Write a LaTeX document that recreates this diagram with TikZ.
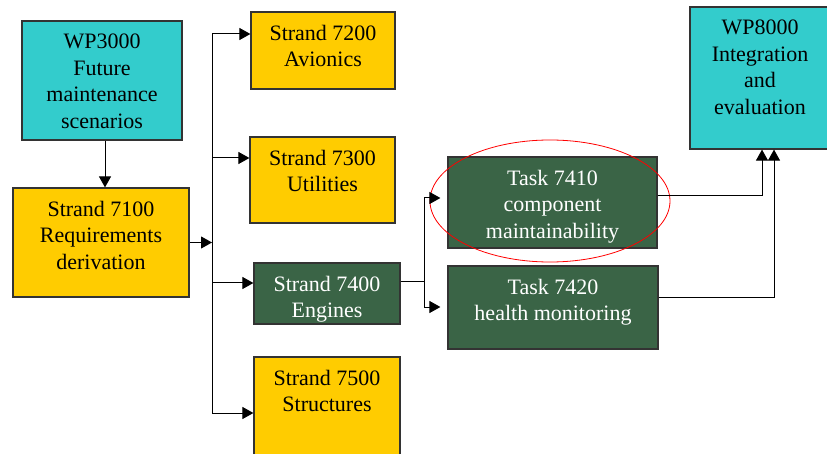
\documentclass[tikz,border=0pt]{standalone}
\usepackage{fontspec}
\newfontfamily\boxfont{Liberation Serif}
\usetikzlibrary{arrows.meta,shapes.geometric}
\definecolor{wpcyan}{HTML}{33CCCC}
\definecolor{stryellow}{HTML}{FFCC00}
\definecolor{taskgreen}{HTML}{3A6446}
\begin{document}
\begin{tikzpicture}[>={Triangle[length=11pt,width=12pt]}, x=1pt, y=-1pt, line width=1pt,
  box/.style={draw=black!80, line width=1.2pt, rectangle, inner sep=0pt},
  cy/.style={box, fill=wpcyan},
  yl/.style={box, fill=stryellow},
  gr/.style={box, fill=taskgreen},
  txt/.style={anchor=north, align=center, inner sep=0pt, yshift=-13pt,
    font=\boxfont\fontsize{22pt}{26.7pt}\selectfont}]
\useasboundingbox (0,0) rectangle (827,454);
\clip (0,0) rectangle (827,454);
% work packages
\node[cy, minimum width=160pt, minimum height=119pt,
  label={[txt]north:WP3000\\Future\\maintenance\\scenarios}] (wp3) at (102,80.5) {};
\node[cy, minimum width=140pt, minimum height=142pt,
  label={[txt]north:WP8000\\Integration\\and\\evaluation}] (wp8) at (760,78) {};
% strands
\node[yl, minimum width=176pt, minimum height=109pt,
  label={[txt]north:Strand 7100\\Requirements\\derivation}] (s71) at (101,242.5) {};
\node[yl, minimum width=144pt, minimum height=77pt,
  label={[txt]north:Strand 7200\\Avionics}] (s72) at (323,50.5) {};
\node[yl, minimum width=145pt, minimum height=86pt,
  label={[txt]north:Strand 7300\\Utilities}] (s73) at (322.5,180) {};
\node[gr, minimum width=146pt, minimum height=61pt,
  label={[txt,text=white]north:Strand 7400\\Engines}] (s74) at (327,293.5) {};
\node[yl, minimum width=146pt, minimum height=110pt,
  label={[txt]north:Strand 7500\\Structures}] (s75) at (327,412) {};
% tasks
\node[gr, minimum width=209pt, minimum height=91pt,
  label={[txt,text=white]north:Task 7410\\component\\maintainability}] (t741) at (552.5,202.5) {};
\node[gr, minimum width=210pt, minimum height=83pt,
  label={[txt,text=white]north:Task 7420\\health monitoring}] (t742) at (553,307.5) {};
\node[draw=red, line width=0.8pt, ellipse, minimum width=240pt, minimum height=122pt] (hl) at (550,201) {};
% junctions
\coordinate (bus) at (212,242.5);
\coordinate (b72) at (212,34);
\coordinate (b73) at (212,158);
\coordinate (b74) at (212,283);
\coordinate (b75) at (212,413);
\coordinate (j74) at (424,282);
\coordinate (j741) at (424,198);
\coordinate (j742) at (424,307);
\coordinate (k741) at (762,196);
\coordinate (k742) at (774,298);
% connectors
\draw[->] (wp3.south -| 105,0) -- (s71.north -| 105,0);
\draw[->] (s71.east) -- (bus);
\draw (b72) -- (b75);
\draw[->] (b72) -- (b72 -| s72.west);
\draw[->] (b73) -- (b73 -| s73.west);
\draw[->] (b74) -- (b74 -| s74.west);
\draw[->] (b75) -- (b75 -| s75.west);
\draw (j74 -| s74.east) -- (j74);
\draw (j741) -- (j742);
\draw[->, shorten >=7pt] (j741) -- (j741 -| t741.west);
\draw[->, shorten >=7pt] (j742) -- (j742 -| t742.west);
\draw[->] (k741 -| t741.east) -- (k741) -- (k741 |- wp8.south);
\draw[->] (k742 -| t742.east) -- (k742) -- (k742 |- wp8.south);
\end{tikzpicture}
\end{document}
